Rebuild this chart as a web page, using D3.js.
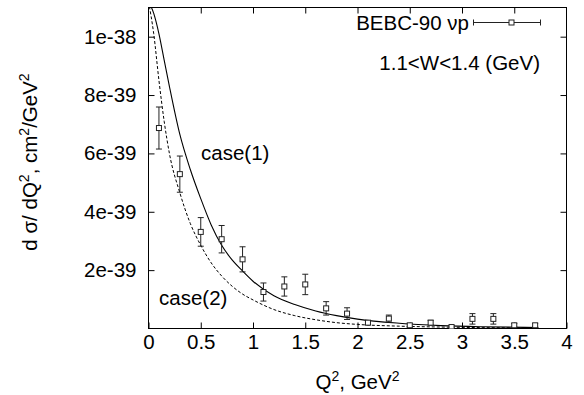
<!DOCTYPE html>
<html>
<head>
<meta charset="utf-8">
<script src="https://cdn.jsdelivr.net/npm/d3@7"></script>
<style>
  body { margin: 0; background: #fff; }
  text { font-family: "Liberation Sans", Arial, sans-serif; fill: #000; }
</style>
</head>
<body>
<svg id="chart" width="584" height="395"></svg>
<script>
// BEBC-90 data, dsigma/dQ2 in cm^2/GeV^2
const q2 = [0.1, 0.3, 0.5, 0.7, 0.9, 1.1, 1.3, 1.5, 1.7, 1.9, 2.1, 2.3, 2.5, 2.7, 2.9, 3.1, 3.3, 3.5, 3.7];
const sigma = [6.87e-39, 5.29e-39, 3.31e-39, 3.06e-39, 2.37e-39, 1.25e-39, 1.44e-39, 1.51e-39, 0.69e-39, 0.51e-39,
               0.20e-39, 0.34e-39, 0.11e-39, 0.20e-39, 0.05e-39, 0.33e-39, 0.33e-39, 0.11e-39, 0.11e-39];
const sigmaErr = [0.72e-39, 0.62e-39, 0.49e-39, 0.47e-39, 0.43e-39, 0.31e-39, 0.33e-39, 0.35e-39, 0.23e-39, 0.20e-39,
                  0.07e-39, 0.12e-39, 0.06e-39, 0.08e-39, 0.05e-39, 0.18e-39, 0.18e-39, 0.06e-39, 0.06e-39];

// theory curves
const curveQ2 = [0, 0.05, 0.1, 0.15, 0.2, 0.3, 0.4, 0.5, 0.6, 0.7, 0.8, 0.9, 1.0, 1.2, 1.4, 1.6, 1.8, 2.0, 2.4, 2.8, 3.2, 3.73];
const case1 = [11.2e-39, 10.8e-39, 10.1e-39, 9.2e-39, 8.3e-39, 6.65e-39, 5.45e-39, 4.45e-39, 3.55e-39, 2.85e-39, 2.35e-39,
               1.97e-39, 1.62e-39, 1.12e-39, 0.82e-39, 0.6e-39, 0.44e-39, 0.32e-39, 0.18e-39, 0.1e-39, 0.06e-39, 0.035e-39];
const case2 = [11.2e-39, 10.1e-39, 8.5e-39, 7.1e-39, 6.0e-39, 4.65e-39, 3.6e-39, 2.85e-39, 2.25e-39, 1.8e-39, 1.45e-39,
               1.18e-39, 0.98e-39, 0.65e-39, 0.44e-39, 0.3e-39, 0.2e-39, 0.14e-39, 0.08e-39, 0.05e-39, 0.03e-39, 0.02e-39];

const xTicks = [0, 0.5, 1, 1.5, 2, 2.5, 3, 3.5, 4];
const xTickLabels = ["0", "0.5", "1", "1.5", "2", "2.5", "3", "3.5", "4"];
const yTicks = [2e-39, 4e-39, 6e-39, 8e-39, 1e-38];
const yTickLabels = ["2e-39", "4e-39", "6e-39", "8e-39", "1e-38"];

const plotLeft = 148.5, plotRight = 566.5, plotTop = 7.5, plotBottom = 328.5;
const fontSize = 20.5;

const svg = d3.select("#chart");

const x = d3.scaleLinear().domain([0, 4]).range([plotLeft, plotRight]);
const y = d3.scaleLinear().domain([0, 1.1e-38]).range([plotBottom, plotTop]);

// clip so the curves stop at the frame
svg.append("clipPath").attr("id", "plotClip")
    .append("rect")
    .attr("x", plotLeft).attr("y", plotTop)
    .attr("width", plotRight - plotLeft).attr("height", plotBottom - plotTop);

// ticks on all four sides, pointing in
const tickLen = 6;
const axisBottom = d3.axisBottom(x).tickValues(xTicks).tickSize(-tickLen).tickPadding(6)
    .tickFormat((d, i) => xTickLabels[i]);
const axisLeft = d3.axisLeft(y).tickValues(yTicks).tickSize(-tickLen).tickPadding(12)
    .tickFormat((d, i) => yTickLabels[i]);
const axisTop = d3.axisTop(x).tickValues(xTicks.slice(1, -1)).tickSize(-tickLen).tickFormat("");
const axisRight = d3.axisRight(y).tickValues(yTicks).tickSize(-tickLen).tickFormat("");

function styleAxis(g) {
    g.select(".domain").remove();
    g.selectAll("line").attr("stroke", "#000").attr("stroke-width", 1);
    g.selectAll("text").style("font-size", fontSize + "px").attr("fill", "#000");
}

svg.append("g").attr("transform", "translate(0," + plotBottom + ")").call(axisBottom).call(styleAxis);
svg.append("g").attr("transform", "translate(" + plotLeft + ",0)").call(axisLeft).call(styleAxis);
svg.append("g").attr("transform", "translate(0," + plotTop + ")").call(axisTop).call(styleAxis);
svg.append("g").attr("transform", "translate(" + plotRight + ",0)").call(axisRight).call(styleAxis);

// frame
svg.append("rect")
    .attr("x", plotLeft).attr("y", plotTop)
    .attr("width", plotRight - plotLeft).attr("height", plotBottom - plotTop)
    .attr("fill", "none").attr("stroke", "#000").attr("stroke-width", 1);

// theory curves
const line = d3.line()
    .x((d, i) => x(curveQ2[i]))
    .y(d => y(d))
    .curve(d3.curveMonotoneX);

const plot = svg.append("g").attr("clip-path", "url(#plotClip)");

plot.append("path")
    .attr("d", line(case1))
    .attr("fill", "none").attr("stroke", "#000").attr("stroke-width", 1.1);

plot.append("path")
    .attr("d", line(case2))
    .attr("fill", "none").attr("stroke", "#000").attr("stroke-width", 1)
    .attr("stroke-dasharray", "3,2");

// data points with error bars
const capW = 3;
const pts = plot.selectAll("g.pt")
    .data(q2)
    .enter().append("g").attr("class", "pt");

pts.append("line")
    .attr("x1", d => x(d)).attr("x2", d => x(d))
    .attr("y1", (d, i) => y(sigma[i] - sigmaErr[i]))
    .attr("y2", (d, i) => y(sigma[i] + sigmaErr[i]))
    .attr("stroke", "#222").attr("stroke-width", 1);
pts.append("line")
    .attr("x1", d => x(d) - capW).attr("x2", d => x(d) + capW)
    .attr("y1", (d, i) => y(sigma[i] + sigmaErr[i]))
    .attr("y2", (d, i) => y(sigma[i] + sigmaErr[i]))
    .attr("stroke", "#222").attr("stroke-width", 1);
pts.append("line")
    .attr("x1", d => x(d) - capW).attr("x2", d => x(d) + capW)
    .attr("y1", (d, i) => y(sigma[i] - sigmaErr[i]))
    .attr("y2", (d, i) => y(sigma[i] - sigmaErr[i]))
    .attr("stroke", "#222").attr("stroke-width", 1);
pts.append("rect")
    .attr("x", d => x(d) - 2.5).attr("y", (d, i) => y(sigma[i]) - 2.5)
    .attr("width", 5).attr("height", 5)
    .attr("fill", "#fff").attr("stroke", "#222").attr("stroke-width", 1);

// key
svg.append("text")
    .attr("x", 469).attr("y", 30)
    .attr("text-anchor", "end")
    .style("font-size", fontSize + "px")
    .text("BEBC-90 νp");
const keyY = 22.5;
svg.append("line").attr("x1", 473.5).attr("x2", 540.5).attr("y1", keyY).attr("y2", keyY)
    .attr("stroke", "#222");
svg.append("line").attr("x1", 473.5).attr("x2", 473.5).attr("y1", keyY - 3).attr("y2", keyY + 3)
    .attr("stroke", "#222");
svg.append("line").attr("x1", 540.5).attr("x2", 540.5).attr("y1", keyY - 3).attr("y2", keyY + 3)
    .attr("stroke", "#222");
svg.append("rect").attr("x", 509).attr("y", keyY - 2.5).attr("width", 5).attr("height", 5)
    .attr("fill", "#fff").attr("stroke", "#222");

svg.append("text")
    .attr("x", 540).attr("y", 70)
    .attr("text-anchor", "end")
    .style("font-size", fontSize + "px")
    .text("1.1<W<1.4 (GeV)");

svg.append("text").attr("x", 201).attr("y", 160)
    .style("font-size", fontSize + "px").text("case(1)");
svg.append("text").attr("x", 159).attr("y", 305)
    .style("font-size", fontSize + "px").text("case(2)");

// axis titles
const xTitle = svg.append("text")
    .attr("x", (plotLeft + plotRight) / 2).attr("y", 389)
    .attr("text-anchor", "middle")
    .style("font-size", fontSize + "px");
xTitle.append("tspan").text("Q");
xTitle.append("tspan").attr("dy", -8).style("font-size", "14px").text("2");
xTitle.append("tspan").attr("dy", 8).text(", GeV");
xTitle.append("tspan").attr("dy", -8).style("font-size", "14px").text("2");

const yTitle = svg.append("text")
    .attr("transform", "translate(37,162) rotate(-90)")
    .attr("text-anchor", "middle")
    .style("font-size", fontSize + "px");
yTitle.append("tspan").text("d σ/ dQ");
yTitle.append("tspan").attr("dy", -8).style("font-size", "14px").text("2");
yTitle.append("tspan").attr("dy", 8).text(", cm");
yTitle.append("tspan").attr("dy", -8).style("font-size", "14px").text("2");
yTitle.append("tspan").attr("dy", 8).text("/GeV");
yTitle.append("tspan").attr("dy", -8).style("font-size", "14px").text("2");
</script>
</body>
</html>
